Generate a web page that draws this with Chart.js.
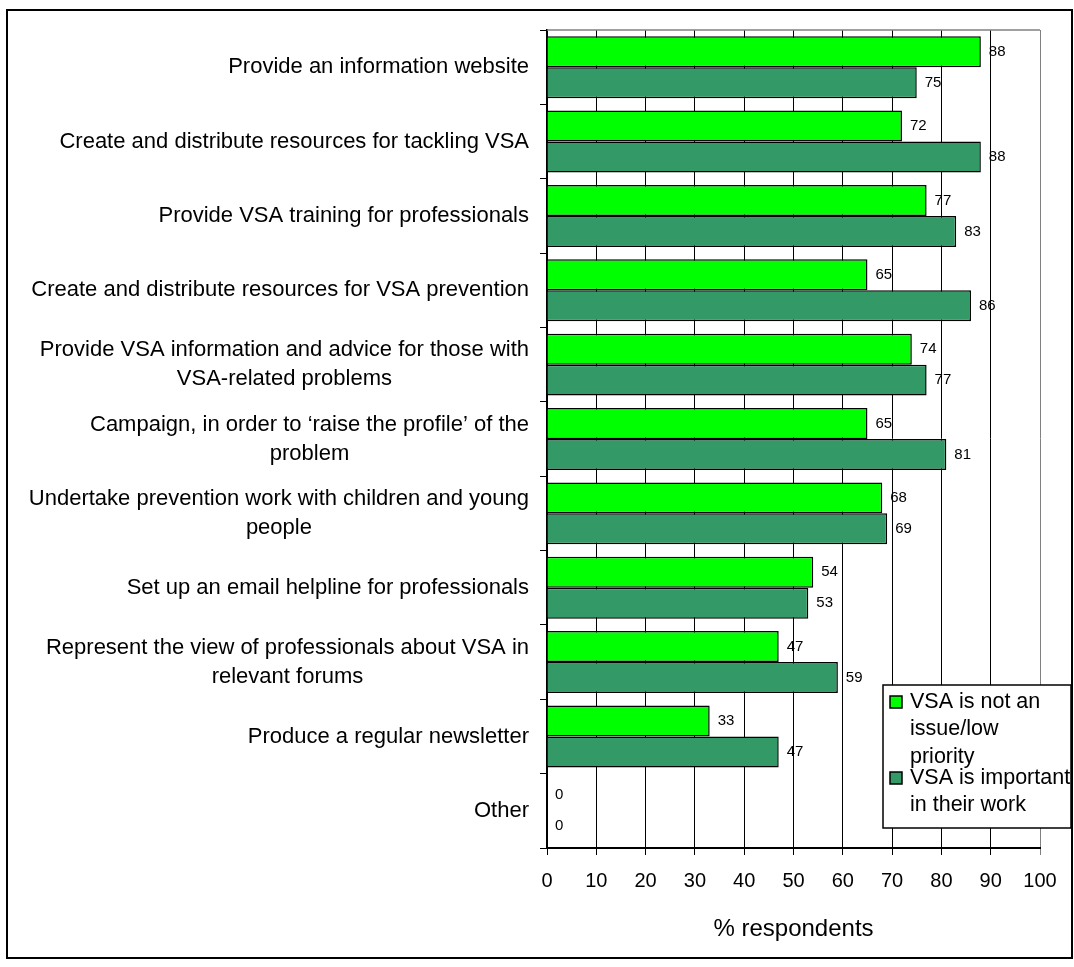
<!DOCTYPE html>
<html>
<head>
<meta charset="utf-8">
<script src="https://cdn.jsdelivr.net/npm/chart.js@4"></script>
<style>
  html, body { margin: 0; padding: 0; background: #fff; }
</style>
</head>
<body>
<canvas id="chart" width="1074" height="967"></canvas>
<script>
// Chart data
const categories = [
    ['Provide an information website'],
    ['Create and distribute resources for tackling VSA'],
    ['Provide VSA training for professionals'],
    ['Create and distribute resources for VSA prevention'],
    ['Provide VSA information and advice for those with', 'VSA-related problems'],
    ['Campaign, in order to \u2018raise the profile\u2019 of the', 'problem'],
    ['Undertake prevention work with children and young', 'people'],
    ['Set up an email helpline for professionals'],
    ['Represent the view of professionals about VSA in', 'relevant forums'],
    ['Produce a regular newsletter'],
    ['Other']
];
const lowPriority = [88, 72, 77, 65, 74, 65, 68, 54, 47, 33, 0];
const important = [75, 88, 83, 86, 77, 81, 69, 53, 59, 47, 0];
const seriesNames = [
    ['VSA is not an', 'issue/low', 'priority'],
    ['VSA is important', 'in their work']
];
const seriesColors = ['#00FF00', '#339966'];
const xTickStep = 10;
const xAxisTitle = '% respondents';

const FONT = 'Arial, "Liberation Sans", sans-serif';
Chart.defaults.font.family = FONT;
Chart.defaults.color = '#000';

// Outer frame and grey top edge of the plot
const framePlugin = {
    id: 'frame',
    beforeDraw(chart) {
        const ctx = chart.ctx;
        ctx.save();
        ctx.fillStyle = '#fff';
        ctx.fillRect(0, 0, chart.width, chart.height);
        ctx.strokeStyle = '#000';
        ctx.lineWidth = 2;
        ctx.strokeRect(7, 10, 1065, 948);
        ctx.restore();
    },
    afterDatasetsDraw(chart) {
        const ctx = chart.ctx;
        const a = chart.chartArea;
        ctx.save();
        ctx.strokeStyle = '#808080';
        ctx.lineWidth = 1.5;
        ctx.beginPath();
        ctx.moveTo(a.left, a.top);
        ctx.lineTo(a.right, a.top);
        ctx.stroke();
        ctx.restore();
    }
};

// Value labels at the end of each bar
const valueLabels = {
    id: 'valueLabels',
    afterDatasetsDraw(chart) {
        const ctx = chart.ctx;
        ctx.save();
        ctx.font = '15px ' + FONT;
        ctx.fillStyle = '#000';
        ctx.textAlign = 'left';
        ctx.textBaseline = 'middle';
        chart.data.datasets.forEach((ds, i) => {
            chart.getDatasetMeta(i).data.forEach((bar, j) => {
                ctx.fillText(String(ds.data[j]), bar.x + 8, bar.y);
            });
        });
        ctx.restore();
    }
};

// Category labels: right aligned block, lines centred in the block
const categoryLabels = {
    id: 'categoryLabels',
    afterDraw(chart) {
        const ctx = chart.ctx;
        const yScale = chart.scales.y;
        const lineH = 29;
        ctx.save();
        ctx.font = '22px ' + FONT;
        ctx.fillStyle = '#000';
        ctx.textAlign = 'center';
        ctx.textBaseline = 'middle';
        categories.forEach((lines, j) => {
            const y = yScale.getPixelForValue(j);
            const w = Math.max(...lines.map(l => ctx.measureText(l).width));
            const cx = yScale.right - 18 - w / 2;
            lines.forEach((l, k) => {
                ctx.fillText(l, cx, y + (k - (lines.length - 1) / 2) * lineH);
            });
        });
        ctx.restore();
    }
};

// Legend box drawn over the plot, like the original
const legendBox = {
    id: 'legendBox',
    afterDraw(chart) {
        const ctx = chart.ctx;
        const bx = 883, by = 685, bw = 188, bh = 143;
        ctx.save();
        ctx.fillStyle = '#fff';
        ctx.fillRect(bx, by, bw, bh);
        ctx.strokeStyle = '#000';
        ctx.lineWidth = 1.5;
        ctx.strokeRect(bx, by, bw, bh);
        ctx.font = '21.5px ' + FONT;
        ctx.textAlign = 'left';
        ctx.textBaseline = 'middle';
        seriesNames.forEach((lines, i) => {
            const top = by + 17 + i * 76;
            ctx.fillStyle = seriesColors[i];
            ctx.fillRect(bx + 7, top - 6, 12, 12);
            ctx.strokeStyle = '#000';
            ctx.lineWidth = 1.5;
            ctx.strokeRect(bx + 7, top - 6, 12, 12);
            ctx.fillStyle = '#000';
            lines.forEach((l, k) => ctx.fillText(l, bx + 27, top + k * 27.5));
        });
        ctx.restore();
    }
};

const ctx = document.getElementById('chart').getContext('2d');
new Chart(ctx, {
    type: 'bar',
    data: {
        labels: categories,
        datasets: [
            {
                label: seriesNames[0].join(' '),
                data: lowPriority,
                backgroundColor: seriesColors[0],
                borderColor: '#000',
                borderWidth: 1.5,
                categoryPercentage: 0.833,
                barPercentage: 1
            },
            {
                label: seriesNames[1].join(' '),
                data: important,
                backgroundColor: seriesColors[1],
                borderColor: '#000',
                borderWidth: 1.5,
                categoryPercentage: 0.833,
                barPercentage: 1
            }
        ]
    },
    options: {
        indexAxis: 'y',
        responsive: false,
        animation: false,
        layout: { padding: { top: 30, right: 34, left: 0, bottom: 0 } },
        plugins: {
            legend: { display: false },
            tooltip: { enabled: false }
        },
        scales: {
            x: {
                min: 0,
                max: 100,
                ticks: { stepSize: xTickStep, font: { size: 20 }, color: '#000', padding: 14 },
                grid: {
                    color: c => (c.tick && c.tick.value === 100 ? '#808080' : '#000'),
                    lineWidth: 1,
                    tickLength: 7
                },
                border: { color: '#000', width: 2 },
                title: {
                    display: true,
                    text: xAxisTitle,
                    font: { size: 24 },
                    color: '#000',
                    padding: { top: 0, bottom: 23 }
                },
                afterFit(scale) { scale.height = 119; }
            },
            y: {
                ticks: { display: false },
                grid: { drawOnChartArea: false, tickLength: 7, color: '#000', offset: true },
                border: { color: '#000', width: 2 },
                afterFit(scale) { scale.width = 547; }
            }
        }
    },
    plugins: [framePlugin, valueLabels, categoryLabels, legendBox]
});
</script>
</body>
</html>
